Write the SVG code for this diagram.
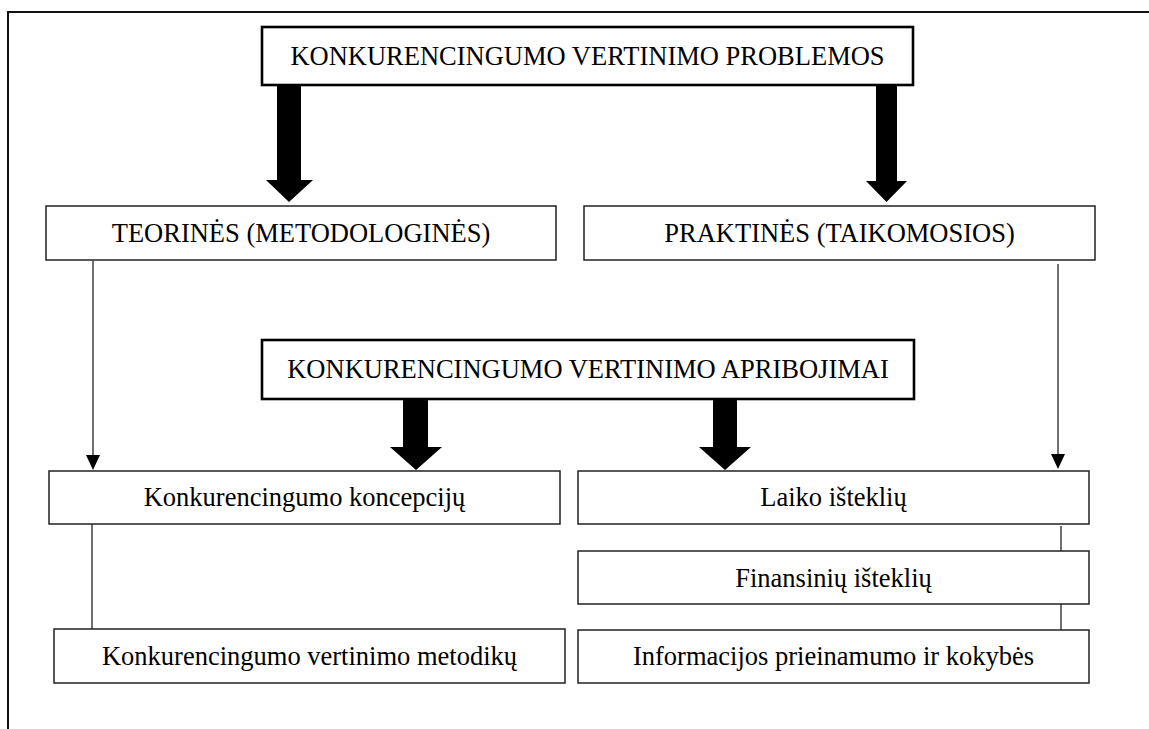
<svg xmlns="http://www.w3.org/2000/svg" width="1149" height="729" viewBox="0 0 1149 729">
  <style>
    .box { fill: #fff; stroke: #222; stroke-width: 1.5; }
    .box-main { fill: #fff; stroke: #000; stroke-width: 2.6; }
    .lbl { font-family: "Liberation Serif", "Times New Roman", serif; font-size: 26.5px; fill: #000; text-anchor: middle; }
    .thin { stroke: #222; stroke-width: 1.3; fill: none; }
    .fat { fill: #000; stroke: none; }
    .frame { stroke: #111; stroke-width: 2; fill: none; }
  </style>
  <defs>
    <marker id="tri" viewBox="0 0 14 15" refX="7" refY="15" markerWidth="14" markerHeight="15" markerUnits="userSpaceOnUse" orient="auto-start-reverse">
      <path d="M0,0 L14,0 L7,15 Z" fill="#000"/>
    </marker>
  </defs>
  <rect width="1149" height="729" fill="#fff"/>

  <!-- page frame (top and left edges) -->
  <path class="frame" d="M8,729 L8,12 L1149,12"/>

  <!-- connectors -->
  <g id="connectors">
    <!-- bold block arrows -->
    <path class="fat" d="M277,85 L301,85 L301,180 L313,180 L289,202 L266,180 L277,180 Z"/>
    <path class="fat" d="M876,85 L897,85 L897,181 L907,181 L886.5,202 L866,181 L876,181 Z"/>
    <path class="fat" d="M403,399 L428,399 L428,447 L442,447 L416,470 L390,447 L403,447 Z"/>
    <path class="fat" d="M713,399 L737,399 L737,447 L751,447 L725,470 L699,447 L713,447 Z"/>
    <!-- thin arrows -->
    <line class="thin" x1="93" y1="261" x2="93" y2="456"/>
    <path d="M86,455 L100,455 L93,470 Z" fill="#000"/>
    <line class="thin" x1="1058" y1="264" x2="1058" y2="455"/>
    <path d="M1051,454 L1065,454 L1058,469 Z" fill="#000"/>
    <!-- plain links -->
    <line class="thin" x1="92" y1="524" x2="92" y2="629"/>
    <line class="thin" x1="1061" y1="526" x2="1061" y2="551"/>
    <line class="thin" x1="1061" y1="604" x2="1061" y2="630"/>
  </g>

  <g id="problems">
    <rect class="box-main" x="262" y="27" width="651" height="58"/>
    <text class="lbl" x="587.5" y="65">KONKURENCINGUMO VERTINIMO PROBLEMOS</text>
  </g>

  <g id="theoretical">
    <rect class="box" x="46" y="206" width="510" height="54"/>
    <text class="lbl" x="301" y="242">TEORINĖS (METODOLOGINĖS)</text>
  </g>

  <g id="practical">
    <rect class="box" x="584" y="206" width="511" height="54"/>
    <text class="lbl" x="839.5" y="242">PRAKTINĖS (TAIKOMOSIOS)</text>
  </g>

  <g id="limitations">
    <rect class="box-main" x="262" y="340" width="652" height="59"/>
    <text class="lbl" x="588" y="378">KONKURENCINGUMO VERTINIMO APRIBOJIMAI</text>
  </g>

  <g id="concepts">
    <rect class="box" x="49" y="471" width="511" height="53"/>
    <text class="lbl" x="304.5" y="506">Konkurencingumo koncepcijų</text>
  </g>

  <g id="methods">
    <rect class="box" x="54" y="629" width="511" height="54"/>
    <text class="lbl" x="309.5" y="665">Konkurencingumo vertinimo metodikų</text>
  </g>

  <g id="time">
    <rect class="box" x="578" y="471" width="511" height="53"/>
    <text class="lbl" x="833.5" y="506">Laiko išteklių</text>
  </g>

  <g id="finance">
    <rect class="box" x="578" y="551" width="511" height="53"/>
    <text class="lbl" x="833.5" y="586.5">Finansinių išteklių</text>
  </g>

  <g id="information">
    <rect class="box" x="578" y="630" width="511" height="53"/>
    <text class="lbl" x="833.5" y="665">Informacijos prieinamumo ir kokybės</text>
  </g>
</svg>
